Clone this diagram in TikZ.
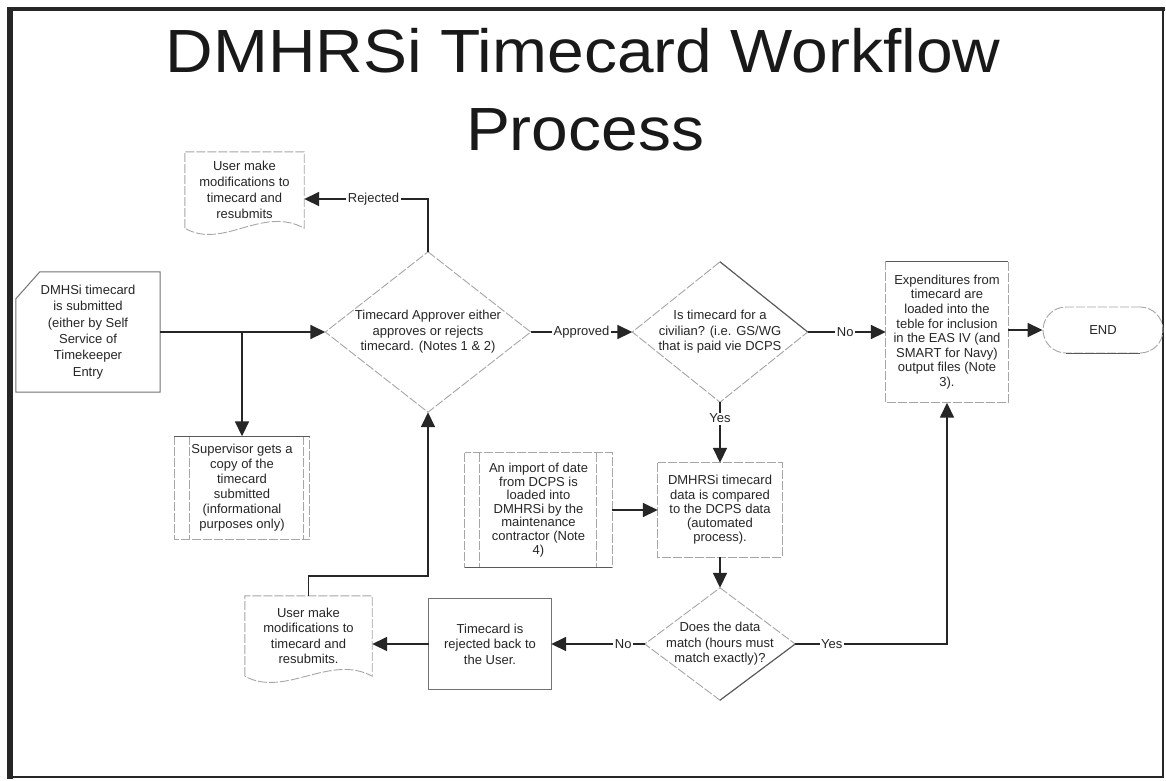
\documentclass[tikz,border=0pt]{standalone}
\usepackage{fontspec}
\setmainfont{Liberation Sans}
\usetikzlibrary{arrows.meta}
\begin{document}
\begin{tikzpicture}[x=1pt,y=-1pt,
  lbl/.style={font=\fontsize{13}{15}\selectfont, align=center, text=black!85, inner sep=0pt},
  outline/.style={draw=black!35, line width=0.9pt, dash pattern=on 9pt off 2pt},
  darkedge/.style={draw=black!65, line width=1.1pt},
  conn/.style={draw=black!85, line width=1.7pt, -{Triangle[length=15pt,width=14pt]}},
  clabel/.style={font=\fontsize{13}{15}\selectfont, fill=white, inner sep=1.5pt, text=black!85}
]
\useasboundingbox (0,0) rectangle (1166,780);
\fill[white] (0,0) rectangle (1166,780);
% frame
\draw[line width=1.5pt, black!85] (9,10) rectangle (1163,777);
\draw[line width=4pt, black!85] (7,9) -- (1165,9);
\draw[line width=6pt, black!85] (10,9) -- (10,779);

% title
\node[anchor=base, font=\fontsize{61}{61}\selectfont, text=black!90, inner sep=0pt] (t1) at (583,72) {\scalebox{1.08}[1]{DMHRSi Timecard Workflow}};
\node[anchor=base, font=\fontsize{61}{61}\selectfont, text=black!90, inner sep=0pt] (t2) at (585,150) {\scalebox{1.08}[1]{Process}};

% nodes
\node[lbl, font=\fontsize{13}{16}\selectfont, minimum width=119pt, minimum height=76pt] (doc1) at (244.5,190) {User make\\modifications to\\timecard and\\resubmits};
\node[lbl, font=\fontsize{13}{16.4}\selectfont, minimum width=144pt, minimum height=120pt] (submit) at (88,332) {DMHSi timecard\\is submitted\\(either by Self\\Service of\\Timekeeper\\Entry};
\node[lbl, minimum width=135pt, minimum height=103pt] (sup) at (242,488) {Supervisor gets a\\copy of the\\timecard\\submitted\\(informational\\purposes only)};
\node[lbl, font=\fontsize{13}{15.5}\selectfont, minimum width=205pt, minimum height=160pt] (d1) at (428,332) {Timecard Approver either\\approves or rejects\\timecard.  (Notes 1 \& 2)};
\node[lbl, font=\fontsize{13}{15.5}\selectfont, minimum width=175pt, minimum height=140pt] (d2) at (720,332) {Is timecard for a\\civilian? (i.e. GS/WG\\that is paid vie DCPS};
\node[lbl, font=\fontsize{13}{14.6}\selectfont, minimum width=122pt, minimum height=141pt] (exp) at (947,332) {Expenditures from\\timecard are\\loaded into the\\teble for inclusion\\in the EAS IV (and\\SMART for Navy)\\output files (Note\\3).};
\node[lbl, draw=black!35, line width=0.9pt, dash pattern=on 9pt off 2pt, rounded corners=23pt, minimum width=120pt, minimum height=46pt] (end) at (1103,330) {END};
\node[lbl, font=\fontsize{13}{13.6}\selectfont, minimum width=147pt, minimum height=114pt] (imp) at (538.5,510) {An import of date\\from DCPS is\\loaded into\\DMHRSi by the\\maintenance\\contractor  (Note\\4)};
\node[lbl, font=\fontsize{13}{14.2}\selectfont, minimum width=124pt, minimum height=94pt] (cmp) at (720,510) {DMHRSi timecard\\data is compared\\to the DCPS data\\(automated\\process).};
\node[lbl, font=\fontsize{13}{15.5}\selectfont, minimum width=150pt, minimum height=112pt] (d3) at (720,644) {Does the data\\match (hours must\\match exactly)?};
\node[lbl, font=\fontsize{13}{15.5}\selectfont, minimum width=122pt, minimum height=90pt] (rej) at (490,644) {Timecard is\\rejected back to\\the User.};
\node[lbl, font=\fontsize{13}{15.5}\selectfont, minimum width=127pt, minimum height=80pt] (doc2) at (308.5,636) {User make\\modifications to\\timecard and\\resubmits.};

% outlines
\draw[outline] (doc1.south west) -- (doc1.north west) -- (doc1.north east) -- (doc1.south east)
  .. controls ([xshift=-42pt,yshift=23pt]doc1.south east) and ([xshift=38pt,yshift=-22pt]doc1.south west) .. (doc1.south west);
\draw[outline] (doc2.south west) -- (doc2.north west) -- (doc2.north east) -- (doc2.south east)
  .. controls ([xshift=-42pt,yshift=23pt]doc2.south east) and ([xshift=40pt,yshift=-22pt]doc2.south west) .. (doc2.south west);
\draw[draw=black!55, line width=1pt] ([yshift=-27pt]submit.north west) -- ([xshift=24pt]submit.north west) -- (submit.north east) -- (submit.south east) -- (submit.south west) -- cycle;
\draw[outline] (sup.north west) rectangle (sup.south east);
\draw[outline] ([xshift=15pt]sup.north west) -- ([xshift=15pt]sup.south west);
\draw[outline] ([xshift=-6pt]sup.north east) -- ([xshift=-6pt]sup.south east);
\draw[darkedge] (sup.north west) -- (sup.north east);
\draw[outline] (d1.north) -- (d1.east) -- (d1.south) -- (d1.west) -- cycle;
\draw[outline] (d2.north) -- (d2.east) -- (d2.south) -- (d2.west) -- cycle;
\draw[darkedge] (d2.north) -- (d2.east);
\draw[outline] (d3.north) -- (d3.east) -- (d3.south) -- (d3.west) -- cycle;
\draw[darkedge] (d3.east) -- (d3.south);
\draw[outline] (exp.north west) rectangle (exp.south east);
\draw[darkedge] (exp.north west) -- (exp.north east);
\draw[darkedge] ([xshift=23pt]end.south west) -- ([xshift=-23pt]end.south east);
\draw[outline] (imp.north west) rectangle (imp.south east);
\draw[outline] ([xshift=15pt]imp.north west) -- ([xshift=15pt]imp.south west);
\draw[outline] ([xshift=-16pt]imp.north east) -- ([xshift=-16pt]imp.south east);
\draw[darkedge] (imp.south west) -- (imp.south east);
\draw[outline] (cmp.north west) rectangle (cmp.south east);
\draw[draw=black!55, line width=1pt] (rej.north west) rectangle (rej.south east);

% connectors
\draw[conn] (submit.east) -- (d1.west);
\draw[conn] (submit.east -| sup.north) -- (sup.north);
\draw[conn] (d1.north) |- node[clabel, pos=0.72] {Rejected} ([yshift=-9pt]doc1.east);
\draw[conn] (d1.east) -- node[clabel] {Approved} (d2.west);
\draw[conn] (d2.east) -- node[clabel, pos=0.48] {No} (exp.west);
\draw[conn] (d2.south) -- node[clabel, pos=0.27] {Yes} (cmp.north);
\draw[conn] (imp.east) -- (cmp.west);
\draw[conn] (cmp.south) -- (d3.north);
\draw[conn] (d3.west) -- node[clabel, pos=0.23] {No} (rej.east);
\draw[conn] (rej.west) -- (rej.west -| doc2.east);
\draw[conn] (d3.east) -| node[clabel, pos=0.12] {Yes} (exp.south);
\draw[conn] (doc2.north) -- ++(0,-20) -| (d1.south);
\draw[conn] (end.west -| exp.east) -- (end.west);
\end{tikzpicture}
\end{document}
